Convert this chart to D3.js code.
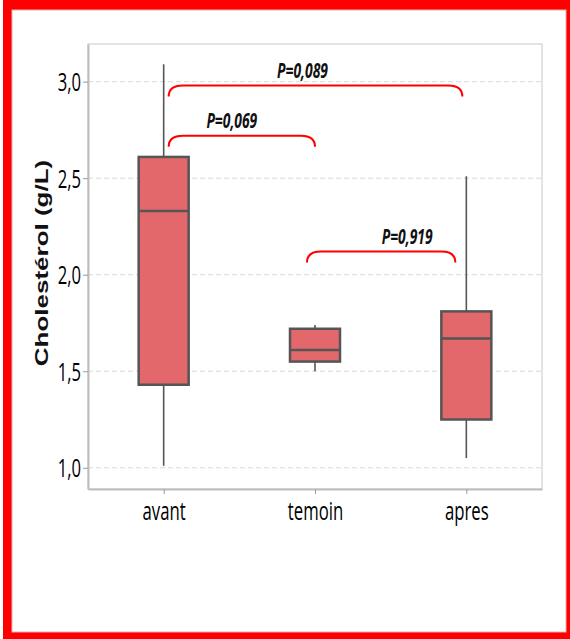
<!DOCTYPE html>
<html>
<head>
<meta charset="utf-8">
<script src="https://cdn.jsdelivr.net/npm/d3@7"></script>
<style>
  html, body { margin: 0; padding: 0; background: #fff; }
  svg { display: block; }
</style>
</head>
<body>
<svg id="chart" width="570" height="639"></svg>
<script>
// Cholesterol (g/L) by group: box summaries
const categories  = ["avant", "temoin", "apres"];
const whiskerLow  = [1.01, 1.50, 1.05];
const q1          = [1.43, 1.55, 1.25];
const median      = [2.33, 1.61, 1.67];
const q3          = [2.61, 1.72, 1.81];
const whiskerHigh = [3.09, 1.74, 2.51];

const yTicks = [1.0, 1.5, 2.0, 2.5, 3.0];
const yTickLabels = ["1,0", "1,5", "2,0", "2,5", "3,0"];

// pairwise comparisons
const cmpFrom  = ["avant", "avant", "temoin"];
const cmpTo    = ["temoin", "apres", "apres"];
const cmpLevel = [2.72, 2.98, 2.12];
const cmpLabel = ["P=0,069", "P=0,089", "P=0,919"];

const svg = d3.select("#chart");

// page frame
svg.append("rect").attr("x", 3).attr("y", 0).attr("width", 567).attr("height", 639).attr("fill", "#ff0000");
svg.append("rect").attr("x", 12).attr("y", 10).attr("width", 554).attr("height", 622)
  .attr("fill", "#fff").attr("stroke", "#e6b4b4").attr("stroke-width", 1);

const plotL = 88, plotR = 542, plotT = 44, plotB = 489;
const sx = 0.64; // horizontal squeeze applied to text

const x = d3.scalePoint().domain(categories).range([plotL, plotR]).padding(0.5);
const y = d3.scaleLinear().domain([0.89, 3.195]).range([plotB, plotT]);

// gridlines
svg.append("g").selectAll("line").data(yTicks).join("line")
  .attr("x1", plotL).attr("x2", plotR)
  .attr("y1", d => y(d)).attr("y2", d => y(d))
  .attr("stroke", "#d9d9d9").attr("stroke-width", 1).attr("stroke-dasharray", "5,3");

// plot frame
svg.append("rect").attr("x", plotL).attr("y", plotT).attr("width", plotR - plotL).attr("height", plotB - plotT)
  .attr("fill", "none").attr("stroke", "#c8c8c8").attr("stroke-width", 1);

// y axis
const yAxis = d3.axisLeft(y).tickValues(yTicks).tickSize(5).tickSizeOuter(0).tickPadding(7)
  .tickFormat((d, i) => yTickLabels[i]);
const gy = svg.append("g").attr("transform", `translate(${plotL},0)`).call(yAxis);
gy.select(".domain").attr("stroke", "#bdbdbd").attr("stroke-width", 2);
gy.selectAll(".tick line").attr("stroke", "#9a9a9a");
gy.selectAll(".tick text").each(function () {
  d3.select(this).attr("x", null).attr("dy", null)
   .attr("transform", `translate(-7,9) scale(${sx},1)`)
   .attr("font-family", "'Open Sans', 'Noto Sans', sans-serif")
   .attr("font-size", 26).attr("font-weight", 500).attr("fill", "#000");
});

// x axis
const xAxis = d3.axisBottom(x).tickSize(5).tickSizeOuter(0).tickPadding(0);
const gx = svg.append("g").attr("transform", `translate(0,${plotB})`).call(xAxis);
gx.select(".domain").attr("stroke", "#bdbdbd").attr("stroke-width", 2);
gx.selectAll(".tick line").attr("stroke", "#9a9a9a");
gx.selectAll(".tick text").each(function () {
  d3.select(this).attr("y", null).attr("dy", null)
    .attr("transform", `translate(0,31) scale(0.67,1)`)
    .attr("font-family", "'Open Sans', 'Noto Sans', sans-serif")
    .attr("font-size", 25).attr("font-weight", 500).attr("fill", "#000");
});

// y axis title
svg.append("text")
  .attr("transform", `translate(48,263) scale(0.74,1) rotate(-90)`)
  .attr("text-anchor", "middle")
  .attr("font-family", "'Liberation Sans', Arial, sans-serif")
  .attr("font-weight", "bold").attr("font-size", 26).attr("fill", "#111")
  .text("Cholestérol (g/L)");

// boxes
const boxW = 50;
const rows = categories.map((c, i) => ({
  c, lo: whiskerLow[i], q1: q1[i], med: median[i], q3: q3[i], hi: whiskerHigh[i]
}));
const g = svg.append("g").selectAll("g").data(rows).join("g");
g.append("line")
  .attr("x1", d => x(d.c)).attr("x2", d => x(d.c))
  .attr("y1", d => y(d.hi)).attr("y2", d => y(d.q3))
  .attr("stroke", "#555").attr("stroke-width", 1.6);
g.append("line")
  .attr("x1", d => x(d.c)).attr("x2", d => x(d.c))
  .attr("y1", d => y(d.q1)).attr("y2", d => y(d.lo))
  .attr("stroke", "#555").attr("stroke-width", 1.6);
g.append("rect")
  .attr("x", d => x(d.c) - boxW / 2).attr("width", boxW)
  .attr("y", d => y(d.q3)).attr("height", d => y(d.q1) - y(d.q3))
  .attr("fill", "#e3686b").attr("stroke", "#555").attr("stroke-width", 2.5);
g.append("line")
  .attr("x1", d => x(d.c) - boxW / 2).attr("x2", d => x(d.c) + boxW / 2)
  .attr("y1", d => y(d.med)).attr("y2", d => y(d.med))
  .attr("stroke", "#555").attr("stroke-width", 2.5);

// comparison brackets
const endInset = [5, 5, -8];
const endInsetR = [0, 4, 11];
const labelNudge = [-10, -13, 26];
const r = 11;
cmpFrom.forEach((f, i) => {
  const x0 = x(f) + endInset[i];
  const x1 = x(cmpTo[i]) - endInsetR[i];
  const yy = y(cmpLevel[i]);
  svg.append("path")
    .attr("d", `M${x0},${yy + r} Q${x0},${yy} ${x0 + r + 3},${yy} L${x1 - r - 3},${yy} Q${x1},${yy} ${x1},${yy + r}`)
    .attr("fill", "none").attr("stroke", "#ff0000").attr("stroke-width", 2);
  svg.append("text")
    .attr("transform", `translate(${(x0 + x1) / 2 + labelNudge[i]},${yy - 8}) scale(0.66,1)`)
    .attr("text-anchor", "middle")
    .attr("font-family", "'Open Sans', 'Noto Sans', sans-serif")
    .attr("font-weight", "bold").attr("font-style", "italic")
    .attr("font-size", 21).attr("fill", "#111")
    .text(cmpLabel[i]);
});
</script>
</body>
</html>
